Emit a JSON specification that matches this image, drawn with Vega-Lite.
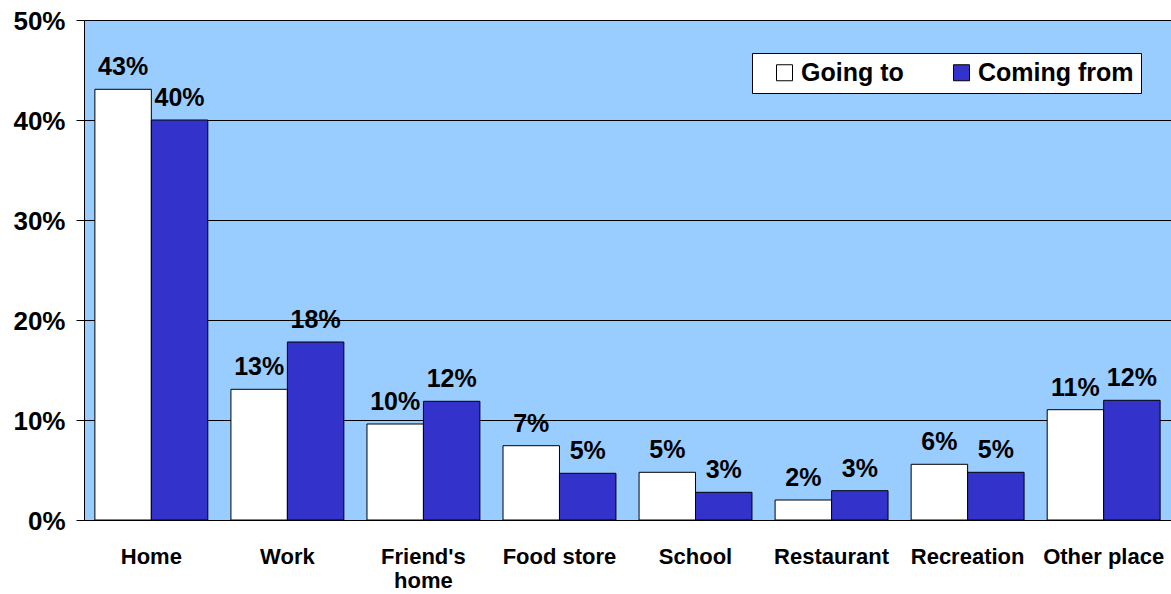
{
  "$schema": "https://vega.github.io/schema/vega-lite/v6.json",
  "width": 1087,
  "height": 500,
  "autosize": {"type": "none"},
  "padding": {"left": 84, "top": 20, "right": 0, "bottom": 74},
  "background": "white",
  "config": {
    "view": {"fill": "#99CCFF", "stroke": null},
    "font": "Liberation Sans"
  },
  "data": {
    "values": [
      {"place": "Home", "dir": "Going to", "value": 0.4307},
      {"place": "Home", "dir": "Coming from", "value": 0.400},
      {"place": "Work", "dir": "Going to", "value": 0.1307},
      {"place": "Work", "dir": "Coming from", "value": 0.178},
      {"place": "Friend's home", "dir": "Going to", "value": 0.096},
      {"place": "Friend's home", "dir": "Coming from", "value": 0.1187},
      {"place": "Food store", "dir": "Going to", "value": 0.0743},
      {"place": "Food store", "dir": "Coming from", "value": 0.0467},
      {"place": "School", "dir": "Going to", "value": 0.0477},
      {"place": "School", "dir": "Coming from", "value": 0.0277},
      {"place": "Restaurant", "dir": "Going to", "value": 0.020},
      {"place": "Restaurant", "dir": "Coming from", "value": 0.0293},
      {"place": "Recreation", "dir": "Going to", "value": 0.0557},
      {"place": "Recreation", "dir": "Coming from", "value": 0.0477},
      {"place": "Other place", "dir": "Going to", "value": 0.1103},
      {"place": "Other place", "dir": "Coming from", "value": 0.1197}
    ]
  },
  "encoding": {
    "x": {
      "field": "place",
      "type": "nominal",
      "sort": null,
      "scale": {"paddingInner": 0.17, "paddingOuter": 0.08},
      "axis": {
        "title": null,
        "labelAngle": 0,
        "ticks": false,
        "tickSize": 0,
        "domainColor": "black",
        "domainWidth": 1,
        "labelFontSize": 22,
        "labelFontWeight": "bold",
        "labelColor": "black",
        "labelBaseline": "top",
        "labelPadding": 26,
        "labelLineHeight": 24,
        "labelLimit": 300,
        "labelOverlap": false,
        "labelExpr": "datum.label == \"Friend's home\" ? [\"Friend's\", \"home\"] : datum.label"
      }
    },
    "xOffset": {
      "field": "dir",
      "type": "nominal",
      "sort": ["Going to", "Coming from"],
      "scale": {"paddingInner": 0, "paddingOuter": 0}
    },
    "y": {
      "field": "value",
      "type": "quantitative",
      "scale": {"domain": [0, 0.5], "nice": false},
      "axis": {
        "title": null,
        "values": [0, 0.1, 0.2, 0.3, 0.4, 0.5],
        "format": ".0%",
        "domainColor": "black",
        "tickColor": "black",
        "tickSize": 8,
        "gridColor": "black",
        "gridWidth": 1,
        "gridOpacity": 1,
        "labelFontSize": 26,
        "labelFontWeight": "bold",
        "labelColor": "black",
        "labelPadding": 11,
        "labelOffset": 1
      }
    }
  },
  "layer": [
    {
      "mark": {"type": "bar", "stroke": "black", "strokeWidth": 1},
      "encoding": {
        "color": {
          "field": "dir",
          "type": "nominal",
          "sort": ["Going to", "Coming from"],
          "scale": {"domain": ["Going to", "Coming from"], "range": ["white", "#3333CC"]},
          "legend": {
            "orient": "none",
            "legendX": 668,
            "legendY": 33,
            "direction": "horizontal",
            "title": null,
            "symbolType": "square",
            "symbolSize": 256,
            "symbolStrokeColor": "black",
            "symbolStrokeWidth": 1,
            "symbolOffset": 13,
            "labelFontSize": 25,
            "labelFontWeight": "bold",
            "labelColor": "black",
            "labelOffset": 4,
            "columnPadding": 32,
            "padding": 7,
            "fillColor": "white",
            "strokeColor": "black"
          }
        }
      }
    },
    {
      "mark": {"type": "text", "fontSize": 25, "fontWeight": "bold", "baseline": "alphabetic", "dy": -14, "color": "black"},
      "encoding": {
        "text": {"field": "value", "type": "quantitative", "format": ".0%"}
      }
    }
  ]
}
